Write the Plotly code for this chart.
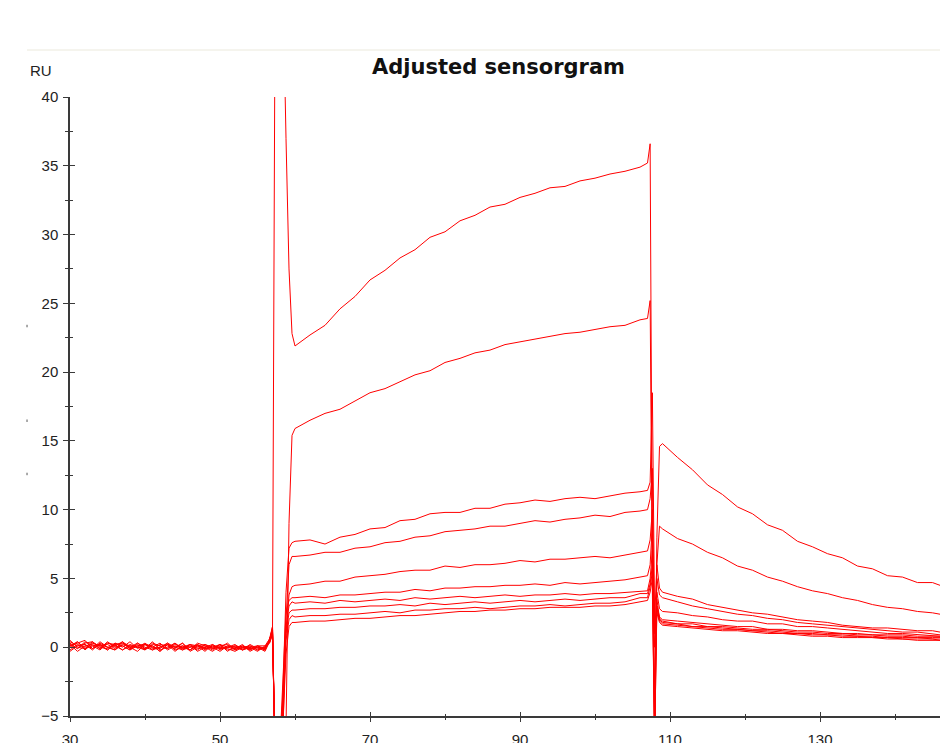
import plotly.graph_objects as go

# ---- time grids (s) for each phase of the cycle ----
t_base = [30, 31, 32, 33, 34, 35, 36, 37, 38, 39, 40, 41, 42, 43, 44, 45,
          46, 47, 48, 49, 50, 51, 52, 53, 54, 55, 56]
t_on = [56.6, 57.0, 57.35, 58.0, 58.4, 58.8, 59.2, 59.6]
t_assoc = [60, 62, 64, 66, 68, 70, 72, 74, 76, 78, 80, 82, 84, 86, 88, 90,
           92, 94, 96, 98, 100, 102, 104, 106]
t_off = [107.0, 107.35, 107.65, 107.95, 108.25, 108.6]
t_diss = [109, 111, 113, 115, 117, 119, 121, 123, 125, 127, 129, 131, 133,
          135, 137, 139, 141, 143, 145, 146]

# ---- response (RU), one row per concentration, highest first ----
baseline_ru = [
    [0.3, -0.1, 0.4, 0.1, 0.2, -0.2, 0.3, 0.0, 0.4, -0.1, 0.2, 0.1, -0.3, 0.2,
     0.0, 0.3, -0.2, 0.1, 0.2, -0.1, 0.0, 0.3, -0.2, 0.1, -0.1, 0.0, -0.2],
    [0.0, 0.4, -0.2, 0.3, 0.1, 0.2, -0.1, 0.4, 0.0, -0.3, 0.2, 0.0, 0.3, -0.2,
     0.1, -0.1, 0.2, -0.3, 0.0, 0.2, -0.2, 0.1, 0.0, -0.2, 0.2, -0.1, 0.0],
    [0.4, 0.1, 0.2, -0.2, 0.3, 0.0, 0.1, 0.4, -0.1, 0.2, -0.2, 0.3, 0.1, -0.1,
     0.2, 0.0, -0.2, 0.3, 0.1, -0.1, 0.2, -0.3, 0.1, 0.0, -0.2, 0.1, 0.1],
    [-0.2, 0.2, 0.0, 0.4, -0.1, 0.3, 0.1, -0.2, 0.2, 0.0, 0.3, -0.1, 0.0, 0.2,
     -0.3, 0.1, 0.0, 0.2, -0.2, 0.1, -0.1, 0.0, 0.2, -0.2, 0.0, -0.3, 0.1],
    [0.2, -0.3, 0.1, 0.2, -0.1, 0.4, 0.0, 0.1, -0.2, 0.3, 0.0, -0.2, 0.2, 0.1,
     -0.1, 0.3, -0.3, 0.0, 0.1, -0.2, 0.2, 0.0, -0.1, 0.2, -0.3, 0.0, -0.1],
    [0.1, 0.3, 0.5, -0.1, 0.2, 0.0, -0.2, 0.3, 0.1, 0.0, -0.1, 0.4, -0.2, 0.0,
     0.3, -0.1, 0.1, -0.2, 0.2, 0.0, -0.3, 0.1, 0.0, -0.1, 0.1, -0.2, 0.0],
    [0.5, 0.0, -0.1, 0.3, 0.1, -0.2, 0.2, 0.3, -0.1, 0.1, 0.2, -0.2, 0.0, 0.3,
     0.0, -0.2, 0.2, 0.1, -0.1, 0.0, 0.2, -0.2, -0.1, 0.1, -0.2, 0.1, -0.1],
    [-0.3, 0.1, 0.2, -0.1, 0.4, 0.0, -0.2, 0.2, 0.0, 0.3, -0.1, 0.1, -0.3, 0.2,
     0.0, 0.1, -0.2, 0.2, -0.1, 0.1, 0.0, -0.1, -0.3, 0.0, 0.1, -0.2, 0.0],
    [0.1, 0.4, -0.1, 0.1, -0.2, 0.3, 0.2, -0.2, 0.1, 0.0, -0.2, 0.2, 0.1, -0.1,
     0.3, -0.2, 0.0, 0.1, -0.3, 0.2, -0.1, 0.0, 0.1, -0.2, 0.0, 0.1, -0.2],
    [0.2, -0.1, 0.3, 0.4, 0.0, -0.1, 0.3, 0.1, -0.2, 0.1, 0.2, 0.0, -0.1, 0.3,
     -0.2, 0.0, 0.2, -0.1, 0.0, -0.3, 0.1, 0.2, -0.2, 0.0, -0.1, 0.0, -0.3],
]

onset_ru = [
    [0.5, 1.3, 48, 48, 48, 37.0, 27.5, 22.8],
    [0.4, 1.5, -8, -8, -8, -6.0, 9.0, 15.4],
    [0.6, 1.2, -8, -8, -3.0, 4.0, 7.2, 7.6],
    [0.3, 1.0, -8, -8, -5.0, 2.0, 6.0, 6.6],
    [0.5, 1.4, -8, -8, -4.0, 1.0, 3.8, 4.4],
    [0.4, 1.1, -8, -7, -2.0, 2.5, 3.4, 3.6],
    [0.6, 1.5, -8, -8, -6.0, 1.5, 3.0, 3.3],
    [0.3, 0.9, -8, -8, -3.5, 1.0, 2.5, 2.7],
    [0.5, 1.2, -8, -8, -4.5, 0.5, 2.0, 2.3],
    [0.4, 1.0, -8, -8, -5.5, -0.5, 1.5, 1.8],
]

assoc_ru = [
    [21.9, 22.7, 23.4, 24.6, 25.5, 26.7, 27.4, 28.3, 28.9, 29.8, 30.2, 31.0,
     31.4, 32.0, 32.2, 32.7, 33.0, 33.4, 33.5, 33.9, 34.1, 34.4, 34.6, 34.9],
    [15.9, 16.5, 17.0, 17.3, 17.9, 18.5, 18.8, 19.3, 19.8, 20.1, 20.7, 21.0,
     21.4, 21.6, 22.0, 22.2, 22.4, 22.6, 22.8, 22.9, 23.1, 23.3, 23.4, 23.8],
    [7.7, 7.8, 7.5, 8.0, 8.2, 8.6, 8.7, 9.2, 9.3, 9.7, 9.8, 9.8,
     10.1, 10.1, 10.4, 10.5, 10.7, 10.6, 10.8, 10.9, 10.8, 11.0, 11.2, 11.3],
    [6.6, 6.7, 6.9, 6.9, 7.2, 7.3, 7.6, 7.7, 8.0, 8.1, 8.4, 8.5,
     8.6, 8.8, 8.8, 9.0, 9.2, 9.1, 9.3, 9.4, 9.6, 9.5, 9.8, 9.9],
    [4.5, 4.6, 4.8, 4.8, 5.1, 5.2, 5.3, 5.5, 5.6, 5.6, 5.9, 5.8,
     6.0, 6.0, 6.1, 6.3, 6.2, 6.4, 6.4, 6.5, 6.6, 6.5, 6.7, 6.9],
    [3.6, 3.7, 3.6, 3.8, 3.8, 3.9, 4.0, 4.0, 4.2, 4.1, 4.3, 4.3,
     4.4, 4.4, 4.5, 4.5, 4.6, 4.5, 4.7, 4.6, 4.7, 4.8, 4.9, 5.1],
    [3.2, 3.3, 3.2, 3.4, 3.3, 3.4, 3.5, 3.4, 3.6, 3.5, 3.6, 3.7,
     3.6, 3.7, 3.8, 3.7, 3.8, 3.8, 3.9, 3.8, 3.9, 3.9, 4.0, 4.1],
    [2.7, 2.8, 2.8, 2.9, 2.9, 3.0, 3.0, 3.1, 3.0, 3.2, 3.1, 3.2,
     3.3, 3.2, 3.3, 3.4, 3.3, 3.4, 3.5, 3.4, 3.5, 3.6, 3.6, 3.9],
    [2.2, 2.3, 2.3, 2.4, 2.4, 2.5, 2.6, 2.5, 2.7, 2.7, 2.8, 2.8,
     2.9, 2.8, 2.9, 3.0, 3.0, 3.1, 3.0, 3.1, 3.2, 3.2, 3.3, 3.6],
    [1.8, 1.9, 1.9, 2.0, 2.1, 2.1, 2.2, 2.3, 2.3, 2.4, 2.5, 2.6,
     2.6, 2.7, 2.7, 2.8, 2.8, 2.9, 2.9, 2.9, 3.0, 3.0, 3.1, 3.3],
]

offset_ru = [
    [35.2, 36.6, 5.0, -7.0, 8.0, 14.6],
    [23.9, 25.2, 4.0, -7.0, 6.0, 8.8],
    [11.4, 12.0, 18.5, 2.0, 6.0, 4.3],
    [10.0, 10.8, 13.0, -7.0, 5.0, 3.8],
    [7.0, 7.8, 10.0, 1.0, 4.0, 2.8],
    [5.2, 6.0, 9.0, -7.0, 3.0, 2.2],
    [4.1, 5.0, 7.0, 0.0, 3.5, 2.1],
    [3.9, 4.6, 6.0, -3.0, 3.0, 2.0],
    [3.6, 4.4, 5.5, -7.0, 2.8, 1.9],
    [3.4, 4.0, 5.0, 1.0, 2.5, 1.8],
]

dissoc_ru = [
    [14.8, 13.8, 12.9, 11.8, 11.1, 10.2, 9.7, 8.9, 8.5, 7.7, 7.3, 6.8, 6.5,
     5.9, 5.7, 5.2, 5.1, 4.7, 4.7, 4.5],
    [8.6, 7.9, 7.5, 6.9, 6.5, 5.9, 5.6, 5.1, 4.8, 4.4, 4.1, 3.9, 3.6,
     3.4, 3.1, 2.9, 2.8, 2.6, 2.5, 2.4],
    [4.0, 3.7, 3.5, 3.1, 2.9, 2.7, 2.5, 2.4, 2.2, 2.0, 1.9, 1.8, 1.6,
     1.5, 1.4, 1.4, 1.3, 1.2, 1.2, 1.1],
    [3.6, 3.3, 3.0, 2.8, 2.6, 2.4, 2.3, 2.1, 2.0, 1.8, 1.7, 1.6, 1.5,
     1.4, 1.3, 1.2, 1.1, 1.1, 1.0, 0.9],
    [2.6, 2.5, 2.3, 2.2, 2.0, 1.9, 1.9, 1.7, 1.7, 1.5, 1.5, 1.4, 1.3,
     1.2, 1.1, 1.0, 1.0, 0.9, 0.8, 0.8],
    [2.0, 1.9, 1.8, 1.7, 1.6, 1.5, 1.5, 1.3, 1.3, 1.2, 1.2, 1.1, 1.0,
     1.0, 0.9, 0.9, 0.9, 0.8, 0.8, 0.8],
    [1.9, 1.7, 1.7, 1.5, 1.5, 1.4, 1.3, 1.3, 1.2, 1.1, 1.1, 1.0, 1.0,
     0.9, 0.9, 0.8, 0.8, 0.7, 0.7, 0.7],
    [1.8, 1.7, 1.5, 1.5, 1.4, 1.3, 1.2, 1.2, 1.1, 1.0, 1.0, 0.9, 0.9,
     0.8, 0.8, 0.7, 0.7, 0.7, 0.6, 0.6],
    [1.7, 1.6, 1.5, 1.4, 1.3, 1.3, 1.2, 1.1, 1.0, 1.0, 0.9, 0.9, 0.8,
     0.8, 0.7, 0.7, 0.6, 0.6, 0.6, 0.5],
    [1.6, 1.5, 1.4, 1.3, 1.2, 1.2, 1.1, 1.0, 1.0, 0.9, 0.8, 0.8, 0.7,
     0.7, 0.7, 0.6, 0.6, 0.5, 0.5, 0.5],
]

x_ticks = [30, 50, 70, 90, 110, 130]
y_ticks = [-5, 0, 5, 10, 15, 20, 25, 30, 35, 40]

LINE_RED = "#ff0000"
AXIS = "#3a3a3a"
FONT = "Liberation Sans, Arial, sans-serif"

t_all = t_base + t_on + t_assoc + t_off + t_diss

fig = go.Figure()
for i in range(len(assoc_ru)):
    ru = baseline_ru[i] + onset_ru[i] + assoc_ru[i] + offset_ru[i] + dissoc_ru[i]
    fig.add_trace(go.Scatter(
        x=t_all, y=ru, mode="lines",
        line=dict(color=LINE_RED, width=1),
        hoverinfo="skip", showlegend=False,
    ))

# empty trace so the overlay axes (inner half of the crossing ticks) get drawn
fig.add_trace(go.Scatter(x=[None], y=[None], xaxis="x2", yaxis="y2",
                         showlegend=False, hoverinfo="skip"))

tickfont = dict(family=FONT, size=15, color="#222222")

fig.update_layout(
    width=940, height=743,
    margin=dict(l=70, r=0, t=97, b=27),
    paper_bgcolor="white", plot_bgcolor="white",
    xaxis=dict(
        range=[30, 146], tickmode="array", tickvals=x_ticks,
        ticks="outside", ticklen=4, tickwidth=1, tickcolor=AXIS,
        minor=dict(tickmode="linear", tick0=30, dtick=10, ticks="outside",
                   ticklen=2, tickwidth=1, tickcolor=AXIS),
        showline=True, linecolor=AXIS, linewidth=1.5,
        showgrid=False, zeroline=False, tickfont=tickfont,
        ticklabelstandoff=5, automargin=False,
    ),
    yaxis=dict(
        range=[-5, 40], tickmode="array", tickvals=y_ticks,
        ticks="outside", ticklen=5, tickwidth=1, tickcolor=AXIS,
        minor=dict(tickmode="linear", tick0=-5, dtick=2.5, ticks="outside",
                   ticklen=3, tickwidth=1, tickcolor=AXIS),
        showline=True, linecolor=AXIS, linewidth=1.5,
        showgrid=False, zeroline=False, tickfont=tickfont,
        ticklabelstandoff=2, automargin=False,
    ),
    xaxis2=dict(
        range=[30, 146], overlaying="x", anchor="y", side="bottom",
        tickmode="array", tickvals=x_ticks, ticks="inside", ticklen=4,
        tickwidth=1, tickcolor=AXIS, showticklabels=False,
        minor=dict(tickmode="linear", tick0=30, dtick=10, ticks="inside",
                   ticklen=2, tickwidth=1, tickcolor=AXIS),
        showline=False, showgrid=False, zeroline=False, automargin=False,
    ),
    yaxis2=dict(
        range=[-5, 40], overlaying="y", anchor="x", side="left",
        tickmode="array", tickvals=y_ticks, ticks="inside", ticklen=5,
        tickwidth=1, tickcolor=AXIS, showticklabels=False,
        minor=dict(tickmode="linear", tick0=-5, dtick=2.5, ticks="inside",
                   ticklen=3, tickwidth=1, tickcolor=AXIS),
        showline=False, showgrid=False, zeroline=False, automargin=False,
    ),
    annotations=[
        dict(text="<b>Adjusted sensorgram</b>", xref="paper", yref="paper",
             x=0.4931, y=1.0485, xanchor="center", yanchor="middle",
             showarrow=False,
             font=dict(family="DejaVu Sans, Verdana, sans-serif", size=21,
                       color="#111111")),
        dict(text="RU", xref="paper", yref="paper", x=-0.0483, y=1.0436,
             xanchor="left", yanchor="middle", showarrow=False,
             font=dict(family=FONT, size=15, color="#222222")),
    ],
    shapes=[
        dict(type="line", xref="paper", yref="paper", x0=-0.0494, x1=1.0,
             y0=1.0759, y1=1.0759, line=dict(color="#ebe9dc", width=1)),
        dict(type="line", xref="paper", yref="paper", x0=-0.0494, x1=-0.0494,
             y0=0.628, y1=0.632, line=dict(color="#555555", width=1)),
        dict(type="line", xref="paper", yref="paper", x0=-0.0494, x1=-0.0494,
             y0=0.475, y1=0.479, line=dict(color="#555555", width=1)),
        dict(type="line", xref="paper", yref="paper", x0=-0.0494, x1=-0.0494,
             y0=0.389, y1=0.393, line=dict(color="#555555", width=1)),
    ],
)

fig.write_html("out.html")
